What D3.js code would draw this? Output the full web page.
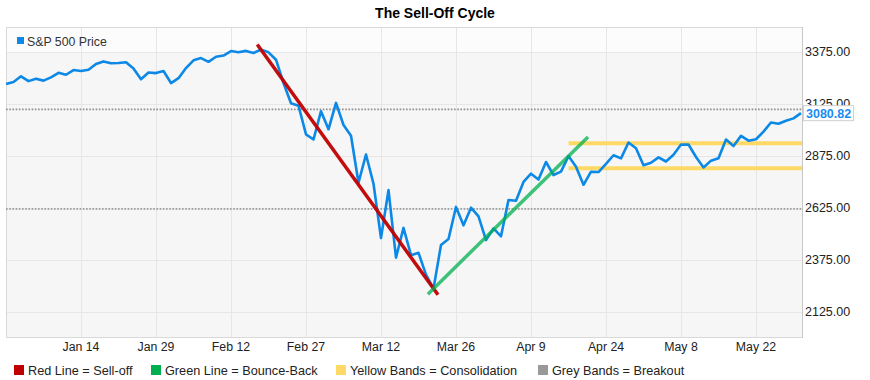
<!DOCTYPE html>
<html>
<head>
<meta charset="utf-8">
<script src="https://cdn.jsdelivr.net/npm/d3@7"></script>
<style>
  body { margin: 0; background: #fff; }
  text { font-family: "Liberation Sans", Arial, sans-serif; }
</style>
</head>
<body>
<div id="chart"></div>
<script>
// S&P 500 daily closes, Dec 30 2019 - Jun 2 2020 (trading days)
var dates = ["Dec 30","Dec 31","Jan 2","Jan 3","Jan 6","Jan 7","Jan 8","Jan 9","Jan 10","Jan 13",
  "Jan 14","Jan 15","Jan 16","Jan 17","Jan 21","Jan 22","Jan 23","Jan 24","Jan 27","Jan 28",
  "Jan 29","Jan 30","Jan 31","Feb 3","Feb 4","Feb 5","Feb 6","Feb 7","Feb 10","Feb 11",
  "Feb 12","Feb 13","Feb 14","Feb 18","Feb 19","Feb 20","Feb 21","Feb 24","Feb 25","Feb 26",
  "Feb 27","Feb 28","Mar 2","Mar 3","Mar 4","Mar 5","Mar 6","Mar 9","Mar 10","Mar 11",
  "Mar 12","Mar 13","Mar 16","Mar 17","Mar 18","Mar 19","Mar 20","Mar 23","Mar 24","Mar 25",
  "Mar 26","Mar 27","Mar 30","Mar 31","Apr 1","Apr 2","Apr 3","Apr 6","Apr 7","Apr 8",
  "Apr 9","Apr 13","Apr 14","Apr 15","Apr 16","Apr 17","Apr 20","Apr 21","Apr 22","Apr 23",
  "Apr 24","Apr 27","Apr 28","Apr 29","Apr 30","May 1","May 4","May 5","May 6","May 7",
  "May 8","May 11","May 12","May 13","May 14","May 15","May 18","May 19","May 20","May 21",
  "May 22","May 26","May 27","May 28","May 29","Jun 1","Jun 2"];

var closes = [3221.29,3230.78,3257.85,3234.85,3246.28,3237.18,3253.05,3274.70,3265.35,3288.13,
  3283.15,3289.29,3316.81,3329.62,3320.79,3321.75,3325.54,3295.47,3243.63,3276.24,
  3273.40,3283.66,3225.52,3248.92,3297.59,3334.69,3345.78,3327.71,3352.09,3357.75,
  3379.45,3373.94,3380.16,3370.29,3386.15,3373.23,3337.75,3225.89,3128.21,3116.39,
  2978.76,2954.22,3090.23,3003.37,3130.12,3023.94,2972.37,2746.56,2882.23,2741.38,
  2480.64,2711.02,2386.13,2529.19,2398.10,2409.39,2304.92,2237.40,2447.33,2475.56,
  2630.07,2541.47,2626.65,2584.59,2470.50,2526.90,2488.65,2663.68,2659.41,2749.98,
  2789.82,2761.63,2846.06,2783.36,2799.55,2874.56,2823.16,2736.56,2799.31,2797.80,
  2836.74,2878.48,2863.39,2939.51,2912.43,2830.71,2842.74,2868.44,2848.42,2881.19,
  2929.80,2930.32,2870.12,2820.00,2852.50,2863.70,2953.91,2922.94,2971.61,2948.51,
  2955.45,2991.77,3036.13,3029.73,3044.31,3055.73,3080.82];

var xTicks = ["Jan 14","Jan 29","Feb 12","Feb 27","Mar 12","Mar 26","Apr 9","Apr 24","May 8","May 22"];
var yTicks = [2125, 2375, 2625, 2875, 3125, 3375];

// trend lines: [start date, start value, end date, end value]
var sellOff = ["Feb 19", 3386.15, "Mar 23", 2237.40];
var bounceBack = ["Mar 23", 2237.40, "Apr 17", 2874.56];
var yellowBands = [2936, 2816];
var yellowStart = "Apr 17";
var greyBands = [3099, 2620];

var legendItems = [
  { label: "Red Line = Sell-off", color: "#c00000" },
  { label: "Green Line = Bounce-Back", color: "#00b050" },
  { label: "Yellow Bands = Consolidation", color: "#ffd966" },
  { label: "Grey Bands = Breakout", color: "#999999" }
];

var W = 870, H = 380;
var pL = 6, pR = 803, pT = 27, pB = 338;
var lineColor = "#0c88e6";

var svg = d3.select("#chart").append("svg")
  .attr("width", W).attr("height", H);

var x = d3.scalePoint().domain(dates).range([pL, 801]);
var y = d3.scaleLinear().domain([2000, 3495]).range([pB, pT]);
var idx = function(d) { return dates.indexOf(d); };
var xi = d3.scaleLinear().domain([0, dates.length - 1]).range([pL, 801]);

// title
svg.append("text")
  .attr("x", 435).attr("y", 18)
  .attr("text-anchor", "middle")
  .style("font-size", "14px").style("font-weight", "bold")
  .text("The Sell-Off Cycle");

// plot background
svg.append("rect")
  .attr("x", pL).attr("y", pT)
  .attr("width", pR - pL).attr("height", pB - pT)
  .attr("fill", "#f6f6f6");
svg.append("rect")
  .attr("x", pL).attr("y", pT)
  .attr("width", pR - pL).attr("height", 25)
  .attr("fill", "#fcfcfc");

// grid
svg.append("g").selectAll("line")
  .data(xTicks).enter().append("line")
  .attr("x1", function(d) { return Math.round(x(d)) + 0.5; })
  .attr("x2", function(d) { return Math.round(x(d)) + 0.5; })
  .attr("y1", pT).attr("y2", pB)
  .attr("stroke", "#e6e6e6").attr("stroke-width", 1);

svg.append("g").selectAll("line")
  .data(yTicks).enter().append("line")
  .attr("x1", pL).attr("x2", pR)
  .attr("y1", function(d) { return Math.round(y(d)) + 0.5; })
  .attr("y2", function(d) { return Math.round(y(d)) + 0.5; })
  .attr("stroke", "#e6e6e6").attr("stroke-width", 1);

// frame
svg.append("rect")
  .attr("x", pL + 0.5).attr("y", pT + 0.5)
  .attr("width", pR - pL - 1).attr("height", pB - pT - 1)
  .attr("fill", "none").attr("stroke", "#d9d9d9");
svg.append("line")
  .attr("x1", pR - 0.5).attr("x2", pR - 0.5)
  .attr("y1", pT).attr("y2", pB)
  .attr("stroke", "#c8c8c8");

// grey dotted bands
svg.append("g").selectAll("line")
  .data(greyBands).enter().append("line")
  .attr("x1", pL).attr("x2", pR)
  .attr("y1", function(d) { return y(d); }).attr("y2", function(d) { return y(d); })
  .attr("stroke", "#8c8c8c").attr("stroke-width", 1.6)
  .attr("stroke-dasharray", "1.6,1.6");

// yellow bands
svg.append("g").selectAll("line")
  .data(yellowBands).enter().append("line")
  .attr("x1", x(yellowStart)).attr("x2", pR - 1)
  .attr("y1", function(d) { return y(d); }).attr("y2", function(d) { return y(d); })
  .attr("stroke", "#ffd966").attr("stroke-width", 4);

// price line
var line = d3.line()
  .x(function(d, i) { return xi(i); })
  .y(function(d) { return y(d); });

svg.append("path")
  .datum(closes)
  .attr("d", line)
  .attr("fill", "none")
  .attr("stroke", lineColor)
  .attr("stroke-width", 2.6)
  .attr("stroke-linejoin", "round");

// trend lines, extended a little past both anchors
function trend(t, ext0, ext1, color, op) {
  var i0 = idx(t[0]), i1 = idx(t[2]);
  var slope = (t[3] - t[1]) / (i1 - i0);
  var a = i0 - ext0, b = i1 + ext1;
  svg.append("line")
    .attr("x1", xi(a)).attr("y1", y(t[1] + slope * (a - i0)))
    .attr("x2", xi(b)).attr("y2", y(t[1] + slope * (b - i0)))
    .attr("stroke", color).attr("stroke-width", 3.5)
    .attr("stroke-opacity", op);
}
trend(sellOff, 0.5, 0.6, "#c00000", 0.95);
trend(bounceBack, 0.75, 2.6, "#00b050", 0.75);

// top legend
svg.append("rect")
  .attr("x", 17).attr("y", 37).attr("width", 7).attr("height", 7)
  .attr("fill", lineColor);
svg.append("text")
  .attr("x", 27).attr("y", 45.5)
  .style("font-size", "12.3px").attr("fill", "#333")
  .text("S&P 500 Price");

// x axis labels
svg.append("g").selectAll("text")
  .data(xTicks).enter().append("text")
  .attr("x", function(d) { return x(d); })
  .attr("y", 351)
  .attr("text-anchor", "middle")
  .style("font-size", "12.3px").attr("fill", "#222")
  .text(function(d) { return d; });

// y axis labels
svg.append("g").selectAll("text")
  .data(yTicks).enter().append("text")
  .attr("x", 805)
  .attr("y", function(d) { return y(d) + 4.5; })
  .style("font-size", "12.5px").attr("fill", "#222")
  .text(function(d) { return d3.format(".2f")(d); });

// last value tag
var last = closes[closes.length - 1];
var tag = svg.append("g").attr("transform", "translate(803," + y(last) + ")");
tag.append("rect")
  .attr("x", 0.5).attr("y", -7.5).attr("width", 50).attr("height", 15)
  .attr("fill", "#fff").attr("stroke", "#d0d0d0");
tag.append("text")
  .attr("x", 3).attr("y", 4.5)
  .style("font-size", "12.5px").style("font-weight", "bold")
  .attr("fill", "#1a8cf0")
  .text(d3.format(".2f")(last));

// bottom legend
var legendX = [14, 151, 336, 538];
var lg = svg.append("g").selectAll("g")
  .data(legendItems).enter().append("g")
  .attr("transform", function(d, i) { return "translate(" + legendX[i] + ",365)"; });
lg.append("rect")
  .attr("width", 10).attr("height", 10)
  .attr("fill", function(d) { return d.color; });
lg.append("text")
  .attr("x", 14).attr("y", 9.5)
  .style("font-size", "12.7px").attr("fill", "#222")
  .text(function(d) { return d.label; });
</script>
</body>
</html>
